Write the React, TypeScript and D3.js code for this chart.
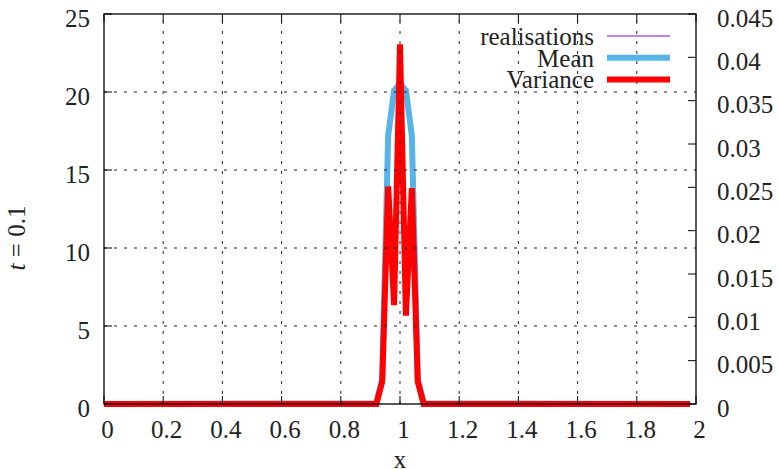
import React from "react";
import * as d3 from "d3";

// vertices of the curves (x on a 0.02 grid; flat zero outside the peak)
const xs = [0, 0.92, 0.94, 0.96, 0.98, 1.0, 1.02, 1.04, 1.06, 1.08, 1.98];
const realisation = [0, 0, 1.6, 17.3, 20.3, 20.7, 20.3, 17.3, 1.6, 0, 0];
const mean = [0, 0.05, 1.6, 17.2, 20.1, 20.4, 20.1, 17.2, 1.6, 0.05, 0];
const variance = [0, 0, 0.0026, 0.0251, 0.0114, 0.0415, 0.0102, 0.0249, 0.0026, 0, 0];

const xTicks = [0, 0.2, 0.4, 0.6, 0.8, 1, 1.2, 1.4, 1.6, 1.8, 2];
const yTicks = [0, 5, 10, 15, 20, 25];
const y2Ticks = [0, 0.005, 0.01, 0.015, 0.02, 0.025, 0.03, 0.035, 0.04, 0.045];

const legendItems = [
  { label: "realisations", color: "#c080f0", width: 2 },
  { label: "Mean", color: "#56b4e9", width: 6 },
  { label: "Variance", color: "#ff0000", width: 6 },
];

const W = 780, H = 470;
const L = 104, R = 696, T = 14, B = 404;
const FONT = "'Liberation Serif', 'Times New Roman', serif";
const FS = 25;
const TXT = "#222";

export default function App() {
  const x = d3.scaleLinear().domain([0, 2]).range([L, R]);
  const y = d3.scaleLinear().domain([0, 25]).range([B, T]);
  const y2 = d3.scaleLinear().domain([0, 0.045]).range([B, T]);

  const lineY = d3.line<number>().x((_, i) => x(xs[i])).y((d) => y(d));
  const lineY2 = d3.line<number>().x((_, i) => x(xs[i])).y((d) => y2(d));

  const tick = 8;
  const dash = "3 7";

  return (
    <svg width={W} height={H} style={{ position: "absolute", left: 0, top: 0, background: "#fff" }}>
      {/* data */}
      <path d={lineY(realisation) || ""} fill="none" stroke="#c080f0" strokeWidth={2} />
      <path d={lineY(mean) || ""} fill="none" stroke="#56b4e9" strokeWidth={6} strokeLinejoin="miter" />
      <path d={lineY2(variance) || ""} fill="none" stroke="#ff0000" strokeWidth={6} strokeLinejoin="miter" strokeMiterlimit={10} />

      {/* grid (in front) */}
      <g stroke="#222" strokeWidth={1} strokeDasharray={dash}>
        {xTicks.slice(1, -1).map((t) => (
          <line key={"gx" + t} x1={x(t)} x2={x(t)} y1={B} y2={T} />
        ))}
        {yTicks.slice(1, -1).map((t) => (
          <line key={"gy" + t} x1={L} x2={R} y1={y(t)} y2={y(t)} />
        ))}
      </g>

      {/* border */}
      <rect x={L} y={T} width={R - L} height={B - T} fill="none" stroke="#000" strokeWidth={1.3} />

      {/* ticks */}
      <g stroke="#000" strokeWidth={1}>
        {xTicks.map((t) => (
          <g key={"tx" + t}>
            <line x1={x(t)} x2={x(t)} y1={B} y2={B - tick} />
            <line x1={x(t)} x2={x(t)} y1={T} y2={T + tick} />
          </g>
        ))}
        {yTicks.map((t) => (
          <line key={"ty" + t} x1={L} x2={L + tick} y1={y(t)} y2={y(t)} />
        ))}
        {y2Ticks.map((t) => (
          <line key={"ty2" + t} x1={R} x2={R - tick} y1={y2(t)} y2={y2(t)} />
        ))}
      </g>

      {/* tick labels */}
      <g fontFamily={FONT} fontSize={FS} fill={TXT}>
        {xTicks.map((t) => (
          <text key={"lx" + t} x={x(t) + 3.5} y={438} textAnchor="middle">
            {String(+t.toFixed(1))}
          </text>
        ))}
        {yTicks.map((t) => (
          <text key={"ly" + t} x={90} y={y(t) + 12.5} textAnchor="end">
            {String(t)}
          </text>
        ))}
        {y2Ticks.map((t) => (
          <text key={"ly2" + t} x={717} y={y2(t) + 12.5} textAnchor="start">
            {String(+t.toFixed(3))}
          </text>
        ))}
      </g>

      {/* axis titles */}
      <text x={400} y={468} textAnchor="middle" fontFamily={FONT} fontSize={FS} fill={TXT}>
        x
      </text>
      <text
        transform={`translate(25, 238) rotate(-90)`}
        textAnchor="middle"
        fontFamily={FONT}
        fontSize={FS}
        fill={TXT}
      >
        <tspan fontStyle="italic">t</tspan>
        <tspan> = 0.1</tspan>
      </text>

      {/* legend */}
      <g fontFamily={FONT} fontSize={FS} fill={TXT}>
        {legendItems.map((it, i) => {
          const cy = 36 + i * 21.7;
          return (
            <g key={it.label}>
              <text x={594} y={cy + 9} textAnchor="end">
                {it.label}
              </text>
              <line x1={607} x2={670} y1={cy} y2={cy} stroke={it.color} strokeWidth={it.width} />
            </g>
          );
        })}
      </g>
    </svg>
  );
}
